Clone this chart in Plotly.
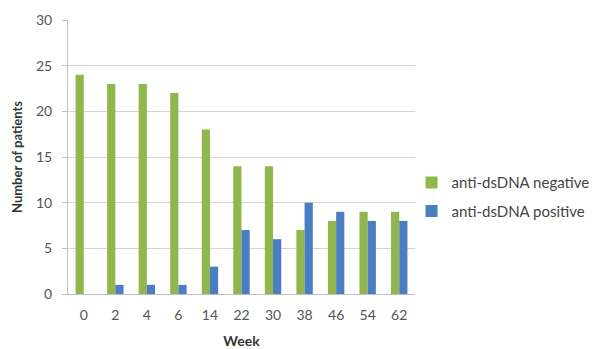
import plotly.graph_objects as go

weeks = ["0", "2", "4", "6", "14", "22", "30", "38", "46", "54", "62"]
negative = [24, 23, 23, 22, 18, 14, 14, 7, 8, 9, 9]
positive = [0, 1, 1, 1, 3, 7, 6, 10, 9, 8, 8]
y_ticks = [0, 5, 10, 15, 20, 25, 30]

GREEN = "#8fb74c"
BLUE = "#4a7dc1"
TEXT = "#555555"
GRID = "#d4d4d4"

fig = go.Figure()
fig.add_trace(go.Bar(x=weeks, y=negative, name="anti-dsDNA negative",
                     marker_color=GREEN, marker_line_width=0, legendgroup="neg"))
fig.add_trace(go.Bar(x=weeks, y=positive, name="anti-dsDNA positive",
                     marker_color=BLUE, marker_line_width=0, legendgroup="pos"))

fig.update_layout(
    width=593, height=349,
    margin=dict(l=68, r=178, t=20, b=55, autoexpand=False),
    paper_bgcolor="white", plot_bgcolor="white",
    barmode="group", bargap=0.48, bargroupgap=0.0,
    font=dict(family="Lato, Liberation Sans, sans-serif", size=14, color=TEXT),
    showlegend=True,
    legend=dict(x=0.99, xanchor="left", y=0.355, yanchor="middle",
                bgcolor="rgba(0,0,0,0)",
                font=dict(size=15, color="#444444"),
                traceorder="grouped", tracegroupgap=6, itemwidth=30),
    xaxis=dict(
        type="category", showgrid=False, showline=True, linecolor="#bfbfbf",
        linewidth=1, ticks="", tickfont=dict(size=14, color=TEXT),
        ticklabelstandoff=8, automargin=False,
        title=dict(text="<b>Week</b>", font=dict(size=14, color="#333333"), standoff=14),
    ),
    yaxis=dict(
        range=[0, 30], tickvals=y_ticks, showgrid=True, gridcolor=GRID,
        showline=True, linecolor="#bfbfbf", linewidth=1,
        ticks="outside", ticklen=5, tickcolor="#bfbfbf",
        ticklabelstandoff=7, automargin=False,
        tickfont=dict(size=14, color=TEXT), zeroline=False,
        title=dict(text="<b>Number of patients</b>", font=dict(size=13, color="#333333"), standoff=10),
    ),
)

fig.write_html("out.html")
